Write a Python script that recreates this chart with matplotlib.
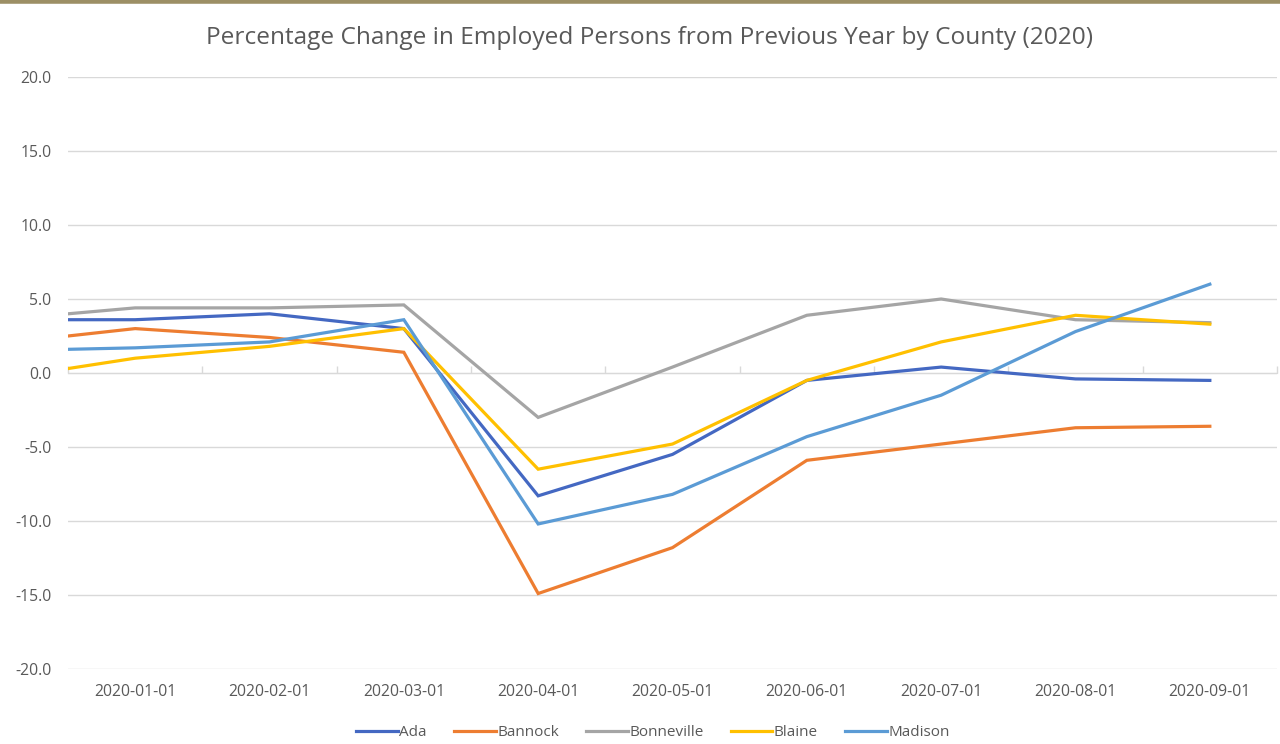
import numpy as np
import matplotlib
matplotlib.use("Agg")
import matplotlib.pyplot as plt
from matplotlib.lines import Line2D

plt.rcParams['font.family'] = ['Open Sans', 'DejaVu Sans']

categories = ["2020-01-01", "2020-02-01", "2020-03-01", "2020-04-01", "2020-05-01",
              "2020-06-01", "2020-07-01", "2020-08-01", "2020-09-01"]
# first value is where each line enters at the left edge of the plot
ada        = [3.6, 3.6, 4.0, 3.0, -8.3, -5.5, -0.5, 0.4, -0.4, -0.5]
bannock    = [2.5, 3.0, 2.4, 1.4, -14.9, -11.8, -5.9, -4.8, -3.7, -3.6]
bonneville = [4.0, 4.4, 4.4, 4.6, -3.0, 0.4, 3.9, 5.0, 3.6, 3.4]
blaine     = [0.3, 1.0, 1.8, 3.0, -6.5, -4.8, -0.5, 2.1, 3.9, 3.3]
madison    = [1.6, 1.7, 2.1, 3.6, -10.2, -8.2, -4.3, -1.5, 2.8, 6.0]

series = [("Ada", ada, "#4468C2"), ("Bannock", bannock, "#ED7D31"),
          ("Bonneville", bonneville, "#A5A5A5"), ("Blaine", blaine, "#FFC000"),
          ("Madison", madison, "#5B9BD5")]
yticks = [20, 15, 10, 5, 0, -5, -10, -15, -20]

fig = plt.figure(figsize=(12.8, 7.44), dpi=100)
fig.patch.set_facecolor("white")
# top decorative border
fig.add_artist(plt.Line2D([0, 1], [0.998, 0.998], color="#9C8F65", lw=4, transform=fig.transFigure))

ax = fig.add_axes([68/1280, 75/744, (1277-68)/1280, (669-77)/744])
n = len(categories)
x_cat = np.arange(n)
x = np.concatenate([[-0.5], x_cat])

for name, vals, col in series:
    ax.plot(x, vals, color=col, lw=2.3, solid_joinstyle="miter", label=name, clip_on=True)

ax.set_xlim(-0.5, n - 0.5)
ax.set_ylim(-20, 20)
ax.set_yticks(yticks)
ax.set_yticklabels([f"{v:.1f}" for v in yticks], color="#595959", fontsize=11.3)
ax.set_xticks(x_cat)
ax.set_xticklabels(categories, color="#595959", fontsize=11.3)
ax.tick_params(axis="y", length=0, pad=12)
ax.tick_params(axis="x", length=0, pad=11)
for s in ax.spines.values():
    s.set_visible(False)
ax.grid(axis="y", color="#D9D9D9", lw=1)
ax.set_axisbelow(True)

# category axis at zero with tick marks between categories
sec = ax.secondary_xaxis(0.5)
sec.set_xticks(np.arange(-0.5, n, 1.0))
sec.set_xticklabels([])
sec.tick_params(axis="x", length=5, width=1, color="#D9D9D9", direction="out")
for k, s in sec.spines.items():
    s.set_visible(k == "bottom")
sec.spines["bottom"].set_color("#D9D9D9")

fig.text(649/1280, 1 - 38/744, "Percentage Change in Employed Persons from Previous Year by County (2020)",
         ha="center", va="center", fontsize=17.6, color="#595959")

handles = [Line2D([0], [0], color=c, lw=2.3) for _, _, c in series]
fig.legend(handles, [s[0] for s in series], loc="center", bbox_to_anchor=(653/1280, 1 - 733/744),
           ncol=5, frameon=False, fontsize=11, handlelength=2.7, handletextpad=0.1,
           columnspacing=1.8, labelcolor="#595959")

fig.savefig("out.png", dpi=100, facecolor="white")
